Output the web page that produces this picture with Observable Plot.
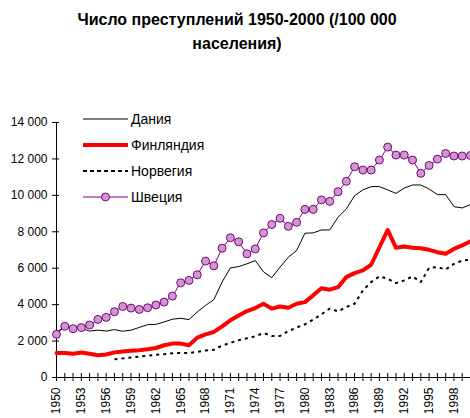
<!DOCTYPE html>
<html><head><meta charset="utf-8">
<script src="https://cdn.jsdelivr.net/npm/d3@7"></script>
<script src="https://cdn.jsdelivr.net/npm/@observablehq/plot@0.6"></script>
<style>
body{margin:0;background:#fff;font-family:"Liberation Sans",Arial,sans-serif;}
#wrap{position:relative;width:470px;height:418px;overflow:hidden;}
#title{height:60px;box-sizing:border-box;padding-top:8px;padding-left:4px;text-align:center;font-weight:bold;font-size:16px;line-height:24px;color:#000;}
#legend{position:absolute;left:83px;top:106px;font-size:14px;color:#000;}
.row{display:flex;align-items:center;height:26px;}
.row span{margin-left:3px;}
</style></head><body>
<div id="wrap">
<div id="title">Число преступлений 1950-2000 (/100 000<br>населения)</div>
<div id="chart"></div>
<div id="legend"></div>
</div>
<script>
const years = d3.range(1950, 2001);
const labelYears = [1950,1953,1956,1959,1962,1965,1968,1971,1974,1977,1980,1983,1986,1989,1992,1995,1998];
const yTicks = [0,2000,4000,6000,8000,10000,12000,14000];
const seriesNames = ["Дания","Финляндия","Норвегия","Швеция"];

const denmark = [2500,2750,2780,2700,2550,2600,2550,2630,2540,2600,
  2750,2900,2920,3050,3200,3250,3180,3600,3960,4270,
  5240,6020,6090,6240,6420,5800,5480,6060,6600,6970,
  7920,7940,8100,8100,8800,9250,9980,10300,10480,10480,
  10300,10110,10400,10570,10570,10350,10040,10040,9380,9310,
  9490];
const finland = [1350,1350,1300,1370,1300,1220,1260,1380,1430,1470,
  1500,1550,1620,1770,1860,1860,1770,2190,2370,2500,
  2810,3140,3400,3650,3810,4050,3780,3900,3830,4050,
  4140,4510,4900,4820,4960,5510,5730,5880,6190,7150,
  8100,7120,7190,7120,7100,7010,6880,6790,7060,7250,
  7480];
const norway = [null,null,null,null,null,null,null,1000,1050,1100,
  1150,1200,1250,1280,1330,1350,1350,1400,1480,1520,
  1750,1900,2050,2150,2260,2440,2280,2280,2550,2740,
  2920,3180,3470,3780,3630,3870,4050,4780,5240,5550,
  5420,5180,5330,5550,5240,6020,6060,5930,6240,6420,
  6460];
const sweden = [2370,2810,2680,2740,2880,3190,3300,3610,3900,3810,
  3740,3830,3980,4140,4470,5200,5330,5640,6390,6130,
  7100,7670,7450,6790,7060,7940,8400,8740,8300,8520,
  9230,9230,9750,9670,10200,10770,11570,11390,11390,11940,
  12650,12210,12210,11940,11210,11640,11990,12300,12160,12160,
  12190];

const valuesByName = {"Дания": denmark, "Финляндия": finland, "Норвегия": norway, "Швеция": sweden};
const rows = name => years.map((yr, i) => ({year: yr, value: valuesByName[name][i]}));

const styles = {
  "Дания": {stroke: "#000", strokeWidth: 1},
  "Финляндия": {stroke: "#ff0000", strokeWidth: 4},
  "Норвегия": {stroke: "#000", strokeWidth: 2, strokeDasharray: "3,4"},
  "Швеция": {stroke: "#800080", strokeWidth: 1}
};

const fmt = d => d3.format(",")(d).replace(/,/g, " ");

const chart = Plot.plot({
  width: 470, height: 358,
  marginLeft: 56, marginRight: 0, marginTop: 62, marginBottom: 41,
  style: {fontFamily: "Liberation Sans, Arial, sans-serif", fontSize: "12px", color: "#000", background: "white"},
  x: {type: "linear", domain: [1950, 2000]},
  y: {domain: [0, 14000]},
  marks: [
    Plot.axisY(yTicks, {tickSize: 4, tickPadding: 5, tickFormat: fmt, label: null, stroke: "#000"}),
    Plot.axisY(yTicks, {tickSize: -3, tickFormat: () => "", label: null, stroke: "#000"}),
    Plot.axisX(years, {tickSize: 4, tickPadding: 6, tickRotate: -90, tickFormat: d => labelYears.includes(d) ? String(d) : "", label: null, stroke: "#000"}),
    Plot.axisX(years, {tickSize: -4, tickFormat: () => "", label: null, stroke: "#000"}),
    Plot.ruleX([1950], {y1: 0, y2: 14000, stroke: "#000"}),
    Plot.ruleY([0], {stroke: "#000"}),
    Plot.line(rows("Норвегия"), {x: "year", y: "value", ...styles["Норвегия"], strokeLinecap: "butt"}),
    Plot.line(rows("Дания"), {x: "year", y: "value", ...styles["Дания"]}),
    Plot.line(rows("Финляндия"), {x: "year", y: "value", ...styles["Финляндия"], strokeLinejoin: "round"}),
    Plot.line(rows("Швеция"), {x: "year", y: "value", ...styles["Швеция"]}),
    Plot.dot(rows("Швеция"), {x: "year", y: "value", r: 4, fill: "#cc99cc", stroke: "#800080", strokeWidth: 1})
  ]
});
document.getElementById("chart").appendChild(chart);

const legend = document.getElementById("legend");
for (const name of seriesNames) {
  const s = styles[name];
  const row = document.createElement("div");
  row.className = "row";
  const dash = name === "Норвегия" ? ' stroke-dasharray="4,3"' : "";
  const marker = name === "Швеция" ? '<circle cx="22.5" cy="6" r="4" fill="#cc99cc" stroke="#800080" stroke-width="1"/>' : "";
  row.innerHTML = `<svg width="45" height="12"><line x1="0" x2="45" y1="6" y2="6" stroke="${s.stroke}" stroke-width="${s.strokeWidth}"${dash}/>${marker}</svg><span>${name}</span>`;
  legend.appendChild(row);
}
</script>
</body></html>
